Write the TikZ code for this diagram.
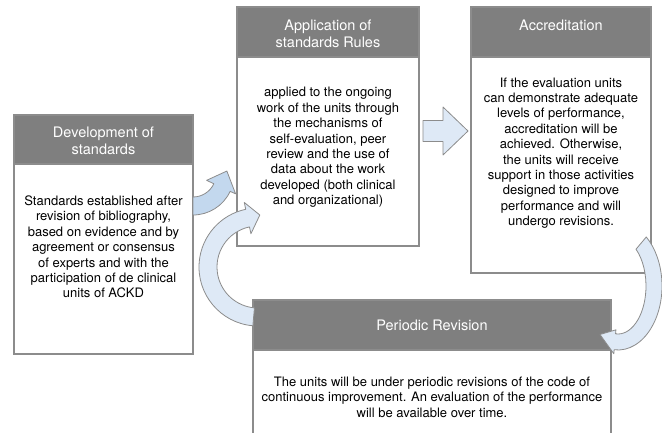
\documentclass[tikz,border=0pt]{standalone}
\usepackage{fontspec}
\setmainfont{TeX Gyre Heros}

\definecolor{headgray}{HTML}{7F7F7F}
\definecolor{framegray}{HTML}{8C8C8C}
\definecolor{arrowblue}{HTML}{C3D8EE}
\definecolor{arrowpale}{HTML}{DEE9F6}

\tikzset{
  frame/.style={draw=framegray, line width=1.3pt, fill=white},
  headbar/.style={draw=framegray, line width=1.3pt, fill=headgray},
  headtext/.style={text=white, align=center, font=\fontsize{14.5}{17}\selectfont},
  bodytext/.style={align=center, font=\fontsize{13}{15.4}\selectfont},
  blockarrow/.style={draw=framegray, line width=0.8pt, line join=round}
}

\begin{document}
\begin{tikzpicture}[x=1pt,y=1pt]
\useasboundingbox (0,0) rectangle (662,432);

% the four boxes
\draw[frame] (14,78) rectangle (193,317);
\draw[headbar] (14,268) rectangle (193,317);
\draw[frame] (237,186) rectangle (419,425);
\draw[headbar] (237,375) rectangle (419,425);
\draw[frame] (471,159) rectangle (651,425);
\draw[headbar] (471,375) rectangle (651,425);
\draw[frame] (253,-5) rectangle (611,132);
\draw[headbar] (253,82) rectangle (611,132);

\node[headtext] (devhead) at (103.5,291) {Development of\\standards};
\node[bodytext] (devtext) at (103.5,185) {Standards established after\\revision of bibliography,\\based on evidence and by\\agreement or consensus\\of experts and with the\\participation of de clinical\\units of ACKD};

\node[headtext] (apphead) at (328,398.5) {Application of\\standards Rules};
\node[bodytext] (apptext) at (328,284.5) {applied to the ongoing\\work of the units through\\the mechanisms of\\self-evaluation, peer\\review and the use of\\data about the work\\developed (both clinical\\and organizational)};

\node[headtext] (acchead) at (561,407) {Accreditation};
\node[bodytext] (acctext) at (561,279) {If the evaluation units\\can demonstrate adequate\\levels of performance,\\accreditation will be\\achieved. Otherwise,\\the units will receive\\support in those activities\\designed to improve\\performance and will\\undergo revisions.};

\node[headtext] (revhead) at (432,107) {Periodic Revision};
\node[bodytext] (revtext) at (432,35) {The units will be under periodic revisions of the code of\\continuous improvement. An evaluation of the performance\\will be available over time.};

% arrows
\draw[blockarrow, fill=arrowpale] (423,290.5) -- (443,290.5) -- (443,277) -- (468,301)
  -- (443,325) -- (443,311.5) -- (423,311.5) -- cycle;

\begin{scope}[shift={(193,258)}]
\draw[blockarrow, fill=arrowblue] (-90:41) arc[start angle=-90, end angle=-25, radius=41]
  -- (-25:47) -- (5:34) -- (-25:15) -- (-25:23)
  arc[start angle=-25, end angle=-90, radius=23] -- cycle;
\end{scope}

\begin{scope}[shift={(258,165)}]
\draw[blockarrow, fill=arrowpale] (265:59) arc[start angle=265, end angle=102, radius=59]
  -- (102:66) -- (88:52) -- (102:34) -- (102:41)
  arc[start angle=102, end angle=265, radius=41] -- cycle;
\end{scope}

\begin{scope}[shift={(618,146)}]
\draw[blockarrow, fill=arrowpale] (50:44 and 64) arc[start angle=50, end angle=-95, x radius=44, y radius=64]
  -- (-95:48 and 68) -- (-120:36 and 56) -- (-95:24 and 44) -- (-95:28 and 48)
  arc[start angle=-95, end angle=50, x radius=28, y radius=48] -- cycle;
\end{scope}

\end{tikzpicture}
\end{document}
